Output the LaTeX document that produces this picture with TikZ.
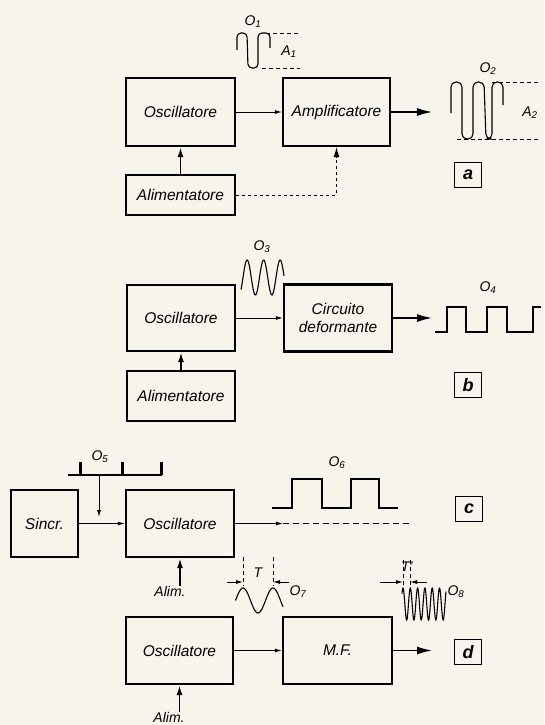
\documentclass[tikz,border=0pt]{standalone}
\usepackage{fontspec}
\setmainfont{Liberation Sans}
\usetikzlibrary{arrows.meta}
\definecolor{paper}{RGB}{247,244,236}
\newcommand{\ond}[1]{O\textsubscript{#1}}

\begin{document}
\begin{tikzpicture}[x=1pt,y=-1pt]
  \tikzstyle{B}=[draw,line width=2.2pt,inner sep=0pt,align=center,font=\fontsize{15.5}{18}\selectfont\itshape]
  \tikzstyle{L}=[inner sep=0pt,font=\fontsize{14}{16}\selectfont\itshape]
  \tikzstyle{tag}=[draw,line width=1pt,minimum width=27pt,minimum height=25pt,inner sep=0pt,font=\fontsize{18}{18}\selectfont\bfseries\itshape]
  \tikzstyle{feed}=[line width=0.9pt,-{Latex[length=7pt,width=4pt]}]
  \tikzstyle{outarr}=[line width=1.4pt,-{Latex[length=15pt,width=8pt]}]
  \tikzstyle{pw}=[line width=1.8pt,-{Latex[length=10pt,width=6pt]}]
  \tikzstyle{wave}=[line width=1.1pt]
  \tikzstyle{ref}=[line width=0.7pt,dash pattern=on 4pt off 3pt]

  \fill[paper] (0,0) rectangle (544,725);
  \useasboundingbox (0,0) rectangle (544,725);

  % a
  \node[B,minimum width=109pt,minimum height=68pt] (oscA) at (180.5,112) {Oscillatore};
  \node[B,minimum width=107pt,minimum height=68pt] (ampA) at (336.5,112) {Amplificatore};
  \node[B,minimum width=109pt,minimum height=40pt] (aliA) at (180.5,195) {Alimentatore};
  \coordinate (outA) at (432,112);
  \node[tag] (tagA) at (468,175) {a};

  \draw[feed] (oscA) -- (ampA);
  \draw[pw] (aliA) -- (oscA);
  \draw[line width=1pt,dashed,-{Latex[length=10pt,width=6pt]}] (aliA.east) -| (ampA.south);
  \draw[outarr] (ampA) -- (outA);

  \draw[wave,rounded corners=4pt] (237,50) -- (237,33) -- (247,33) -- (248,68) -- (258,68)
    -- (258,33) -- (270,33) -- (270,48);
  \draw[ref] (266,33) -- (300,33);
  \draw[ref] (262,68) -- (300,68);
  \node[L] (o1) at (253,22) {\ond{1}};
  \node[L] (a1) at (289,52) {A\textsubscript{1}};

  \draw[wave,rounded corners=5pt] (451,113) -- (451,82) -- (462,82) -- (462,139) -- (473,139)
    -- (473,82) -- (484,82) -- (486,139) -- (492,139) -- (492,82) -- (503,82) -- (503,105);
  \draw[ref] (492,82) -- (540,82);
  \draw[ref] (457,139) -- (540,139);
  \node[L] (o2) at (488,69) {\ond{2}};
  \node[L] (a2) at (530,113) {A\textsubscript{2}};

  % b
  \node[B,minimum width=108pt,minimum height=66pt] (oscB) at (181,318) {Oscillatore};
  \node[B,minimum width=108pt,minimum height=67pt] (cirB) at (338,318) {Circuito\\deformante};
  \node[B,minimum width=108pt,minimum height=50pt] (aliB) at (181,396) {Alimentatore};
  \coordinate (outB) at (432,318);
  \node[tag] (tagB) at (468,385) {b};

  \draw[feed] (oscB) -- (cirB);
  \draw[pw] (aliB) -- (oscB);
  \draw[outarr] (cirB) -- (outB);

  \draw[wave] plot[domain=241:284,samples=80,smooth] (\x,{277.5-17.5*sin((\x-243)/16.5*360)});
  \node[L] (o3) at (262,247) {\ond{3}};

  \draw[wave] (435,332) -- (447,332) -- (447,307) -- (466,307) -- (466,332) -- (487,332)
    -- (487,307) -- (507,307) -- (507,332) -- (533,332) -- (533,307) -- (541,307);
  \node[L] (o4) at (488,288) {\ond{4}};

  % c
  \node[B,minimum width=67pt,minimum height=67pt] (sinC) at (44.5,523.5) {Sincr.};
  \node[B,minimum width=108pt,minimum height=67pt] (oscC) at (180,523.5) {Oscillatore};
  \node[L] (aliC) at (170,591) {Alim.};
  \coordinate (outC) at (283,523.5);
  \coordinate (endC) at (410,523.5);
  \node[tag] (tagC) at (469,509) {c};

  \draw[feed] (sinC) -- (oscC);
  \draw[pw] (aliC.north -| oscC) -- (oscC.south);
  \draw[feed] (oscC) -- (outC);
  \draw[line width=1pt,dash pattern=on 6pt off 4pt] (outC) -- (endC);

  \draw[line width=1.2pt] (68,475) -- (162,475);
  \foreach \px in {80,122,161}
    \draw[line width=3pt] (\px,475) -- (\px,462);
  \node[L] (o5) at (100,457) {\ond{5}};
  \coordinate (p5) at (99,475);
  \coordinate (q5) at (99,517);
  \draw[feed] (p5) -- (q5);

  \draw[wave] (272,508) -- (292,508) -- (292,479) -- (322,479) -- (322,508) -- (351,508)
    -- (351,479) -- (379,479) -- (379,508) -- (398,508);
  \node[L] (o6) at (337,463) {\ond{6}};

  % d
  \node[B,minimum width=107pt,minimum height=67pt] (oscD) at (179.5,650.5) {Oscillatore};
  \node[B,minimum width=109pt,minimum height=67pt] (mfD) at (337.5,650.5) {M.F.};
  \node[L] (aliD) at (169,717) {Alim.};
  \coordinate (outD) at (432,650.5);
  \node[tag] (tagD) at (468,652) {d};

  \draw[feed] (oscD) -- (mfD);
  \draw[pw] (aliD.north -| oscD) -- (oscD.south);
  \draw[outarr] (mfD) -- (outD);

  \draw[wave] plot[domain=235.5:283,samples=80,smooth] (\x,{600.5-12.5*sin((\x-235.5)/30*360)});
  \draw[ref] (243,557) -- (243,586);
  \draw[ref] (273,557) -- (273,586);
  \draw[feed] (227,582) -- (243,582);
  \draw[feed] (289,582) -- (273,582);
  \node[L] (t7) at (258,573) {T};
  \node[L] (o7) at (298,592) {\ond{7}};

  \draw[wave] plot[domain=402:446,samples=160,smooth] (\x,{604-16*sin(90+(\x-403)/7.3*360)});
  \draw[ref] (403,560) -- (403,586);
  \draw[ref] (410,560) -- (410,586);
  \draw[feed] (380,582) -- (403,582);
  \draw[feed] (427,582) -- (410,582);
  \node[L] (t8) at (407,567) {T'};
  \node[L] (o8) at (456,592) {\ond{8}};
\end{tikzpicture}
\end{document}
